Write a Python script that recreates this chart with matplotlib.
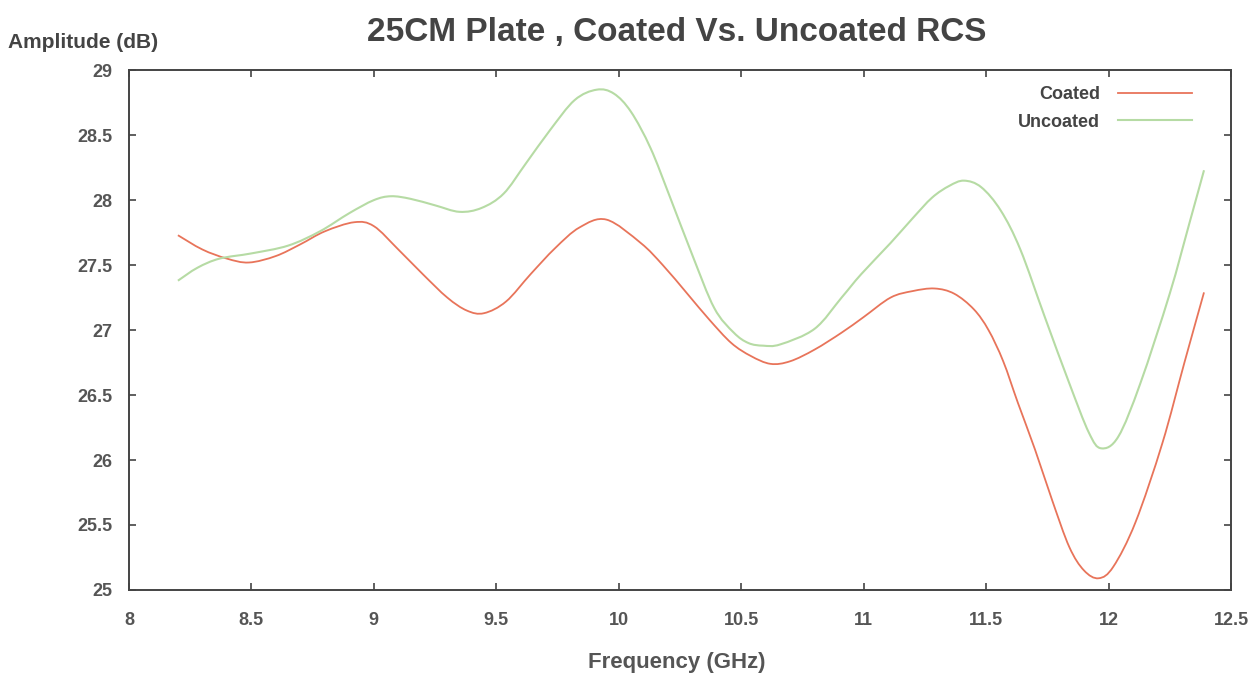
import matplotlib
matplotlib.use("Agg")

import matplotlib.pyplot as plt
from matplotlib.lines import Line2D
from matplotlib.patches import PathPatch
from matplotlib.path import Path

# ── data ────────────────────────────────────────────────────────────────
freq_coated = [8.20, 8.30, 8.40, 8.49, 8.60, 8.70, 8.80, 8.92, 9.00, 9.10,
               9.20, 9.30, 9.38, 9.45, 9.54, 9.64, 9.74, 9.84, 9.95, 10.09,
               10.18, 10.28, 10.37, 10.46, 10.54, 10.62, 10.70, 10.80, 10.91, 11.00,
               11.11, 11.20, 11.29, 11.37, 11.45, 11.51, 11.57, 11.63, 11.70, 11.77,
               11.84, 11.90, 11.96, 12.02, 12.11, 12.22, 12.31, 12.39]
amp_coated = [27.73, 27.62, 27.55, 27.52, 27.57, 27.66, 27.76, 27.83, 27.80, 27.62,
              27.43, 27.25, 27.15, 27.13, 27.22, 27.43, 27.63, 27.79, 27.85, 27.67,
              27.50, 27.28, 27.08, 26.90, 26.80, 26.74, 26.76, 26.85, 26.98, 27.10,
              27.25, 27.30, 27.32, 27.28, 27.16, 27.00, 26.76, 26.44, 26.08, 25.69,
              25.33, 25.15, 25.09, 25.18, 25.52, 26.13, 26.75, 27.29]

freq_uncoated = [8.20, 8.28, 8.37, 8.50, 8.65, 8.78, 8.90, 9.00, 9.07, 9.15,
                 9.25, 9.35, 9.44, 9.53, 9.62, 9.72, 9.82, 9.91, 9.98, 10.05,
                 10.13, 10.21, 10.30, 10.39, 10.47, 10.53, 10.59, 10.66, 10.80, 10.91,
                 10.99, 11.11, 11.20, 11.28, 11.35, 11.41, 11.48, 11.56, 11.64, 11.74,
                 11.84, 11.92, 11.97, 12.04, 12.13, 12.25, 12.33, 12.39]
amp_uncoated = [27.38, 27.48, 27.55, 27.59, 27.65, 27.76, 27.90, 28.00, 28.03, 28.01,
                27.96, 27.91, 27.94, 28.05, 28.28, 28.54, 28.77, 28.85, 28.82, 28.68,
                28.40, 28.02, 27.58, 27.17, 26.98, 26.90, 26.88, 26.89, 27.01, 27.25,
                27.43, 27.67, 27.86, 28.02, 28.11, 28.15, 28.10, 27.92, 27.62, 27.10,
                26.59, 26.21, 26.09, 26.18, 26.59, 27.28, 27.82, 28.23]

x_ticks = [8, 8.5, 9, 9.5, 10, 10.5, 11, 11.5, 12, 12.5]
y_ticks = [25, 25.5, 26, 26.5, 27, 27.5, 28, 28.5, 29]

C_COATED = "#e8745a"
C_UNCOATED = "#b6dba4"


def smooth_path(x, y):
    """Bezier path through the points (Catmull-Rom style), like gnuplot csplines."""
    verts = [(x[0], y[0])]
    codes = [Path.MOVETO]
    n = len(x)
    for i in range(n - 1):
        a = max(i - 1, 0)
        b = min(i + 2, n - 1)
        c1 = (x[i] + (x[i + 1] - x[a]) / 6, y[i] + (y[i + 1] - y[a]) / 6)
        c2 = (x[i + 1] - (x[b] - x[i]) / 6, y[i + 1] - (y[b] - y[i]) / 6)
        verts += [c1, c2, (x[i + 1], y[i + 1])]
        codes += [Path.CURVE4] * 3
    return Path(verts, codes)


# ── figure ──────────────────────────────────────────────────────────────
plt.rcParams["font.family"] = ["Liberation Sans", "DejaVu Sans"]

fig = plt.figure(figsize=(12.58, 6.75), dpi=100, facecolor="white")
ax = fig.add_axes([0.1025, 0.126, 0.876, 0.770])

ax.add_patch(PathPatch(smooth_path(freq_coated, amp_coated), fill=False,
                       edgecolor=C_COATED, lw=1.3))
ax.add_patch(PathPatch(smooth_path(freq_uncoated, amp_uncoated), fill=False,
                       edgecolor=C_UNCOATED, lw=1.5))

ax.set_xlim(8, 12.5)
ax.set_ylim(25, 29)
ax.set_xticks(x_ticks)
ax.set_yticks(y_ticks)
ax.set_xticklabels([f"{t:g}" for t in x_ticks])
ax.set_yticklabels([f"{t:g}" for t in y_ticks])

ax.tick_params(direction="in", top=True, right=True, length=5, width=1.2,
               color="#444", labelsize=13, labelcolor="#555")
ax.tick_params(axis="x", pad=16)
ax.tick_params(axis="y", pad=12)
for lbl in ax.get_xticklabels() + ax.get_yticklabels():
    lbl.set_fontweight("bold")
for sp in ax.spines.values():
    sp.set_edgecolor("#444")
    sp.set_linewidth(1.4)

handles = [Line2D([], [], color=C_COATED, lw=1.3, label="Coated"),
           Line2D([], [], color=C_UNCOATED, lw=1.5, label="Uncoated")]
leg = ax.legend(handles=handles, loc="upper right", bbox_to_anchor=(0.9712, 0.9833),
                frameon=False, markerfirst=False, handlelength=4.1, handletextpad=1.0,
                labelspacing=0.58, borderaxespad=0, prop=dict(weight="bold", size=13))
for t in leg.get_texts():
    t.set_color("#444")

fig.text(0.538, 0.952, "25CM Plate , Coated Vs. Uncoated RCS", ha="center", va="center",
         fontsize=24, fontweight="bold", color="#444")
fig.text(0.006, 0.937, "Amplitude (dB)", ha="left", va="center",
         fontsize=15, fontweight="bold", color="#444")
fig.text(0.538, 0.018, "Frequency (GHz)", ha="center", va="center",
         fontsize=16, fontweight="bold", color="#555")

fig.savefig("out.png", dpi=100, facecolor="white")
